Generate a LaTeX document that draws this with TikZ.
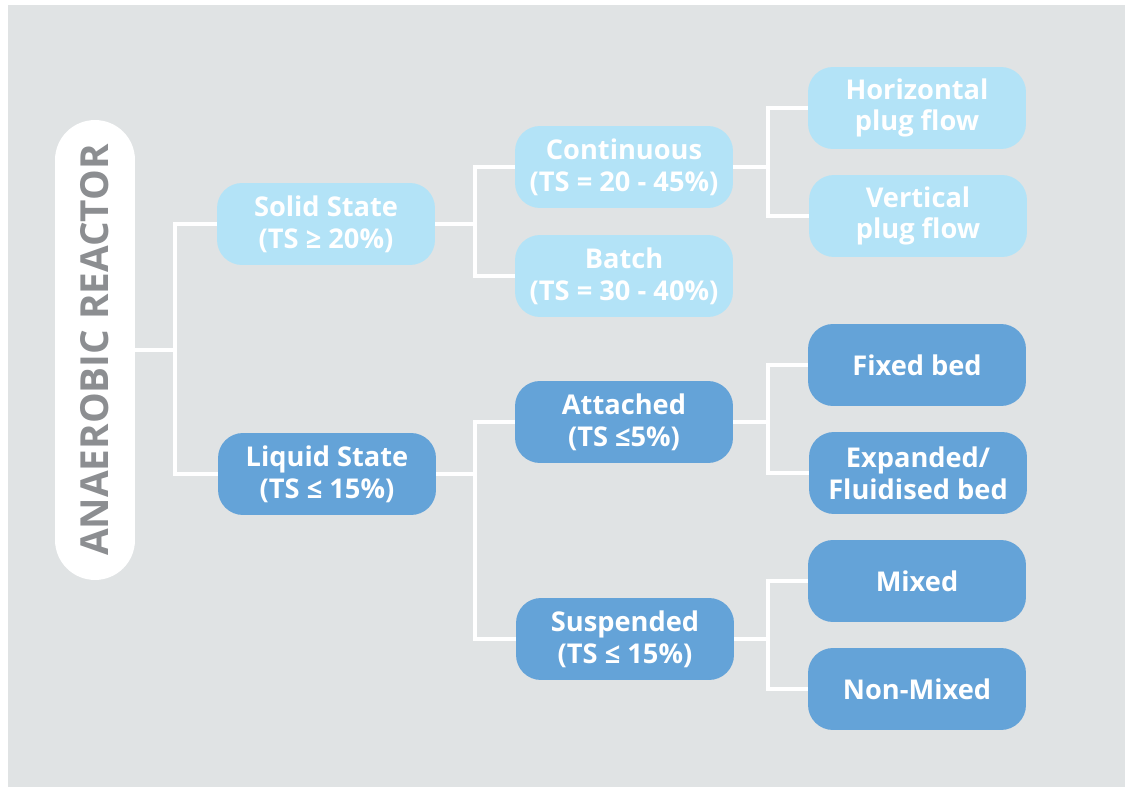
\documentclass[tikz,border=0pt]{standalone}
\usepackage{fontspec}
\setmainfont{Open Sans}
\usetikzlibrary{positioning}
\definecolor{bggray}{HTML}{E0E3E4}
\definecolor{solidblue}{HTML}{B3E3F7}
\definecolor{liquidblue}{HTML}{64A3D8}
\definecolor{titlegray}{HTML}{8C8E91}

\begin{document}
\begin{tikzpicture}[x=0.02cm,y=-0.02cm,
  box/.style={rounded corners=0.5cm, minimum width=4.36cm, minimum height=1.64cm,
    align=center, text=white, inner sep=0pt,
    font=\bfseries\fontsize{15.5}{18}\selectfont},
  solidbox/.style={box, fill=solidblue},
  liquidbox/.style={box, fill=liquidblue},
  titlebox/.style={fill=white, rounded corners=0.8cm, minimum width=9.2cm,
    minimum height=1.6cm, inner sep=0pt, text=titlegray,
    font=\bfseries\fontsize{22}{26}\selectfont},
  link/.style={white, line width=2.3pt}]
  \useasboundingbox (0,0) rectangle (1125,787);
  \fill[bggray] (8,5) rectangle (1125,787);
  % title pill, rotated so that the text reads upwards
  \node[titlebox, rotate=90] (reactor) at (95,350) {ANAEROBIC REACTOR};
  % first level
  \node[solidbox] (solid) at (326,224) {Solid State\\(TS ≥ 20\%)};
  \node[liquidbox] (liquid) at (327,474) {Liquid State\\(TS ≤ 15\%)};
  % second level
  \node[solidbox] (continuous) at (624,167) {Continuous\\(TS = 20 - 45\%)};
  \node[solidbox] (batch) at (624,276) {Batch\\(TS = 30 - 40\%)};
  \node[liquidbox] (attached) at (624,422) {Attached\\(TS ≤5\%)};
  \node[liquidbox] (suspended) at (625,639) {Suspended\\(TS ≤ 15\%)};
  % third level
  \node[solidbox] (hplug) at (917,108) {Horizontal\\plug flow};
  \node[solidbox] (vplug) at (918,216) {Vertical\\plug flow};
  \node[liquidbox] (fixed) at (917,365) {Fixed bed};
  \node[liquidbox] (expanded) at (918,473) {Expanded/\\Fluidised bed};
  \node[liquidbox] (mixed) at (917,581) {Mixed};
  \node[liquidbox] (nonmixed) at (917,689) {Non-Mixed};
  % connectors
  \coordinate (trunk) at (175,350);
  \draw[link] (reactor.south) -- (trunk);
  \draw[link] (solid.west) -| (trunk) |- (liquid.west);
  \foreach \p/\a/\b/\d in {solid/continuous/batch/40, liquid/attached/suspended/39,
      continuous/hplug/vplug/35, attached/fixed/expanded/35,
      suspended/mixed/nonmixed/34} {
    \draw[link] (\p.east) -- ++(\d,0) coordinate (fork-\p)
      (\a.west) -| (fork-\p) |- (\b.west);
  }
\end{tikzpicture}
\end{document}
